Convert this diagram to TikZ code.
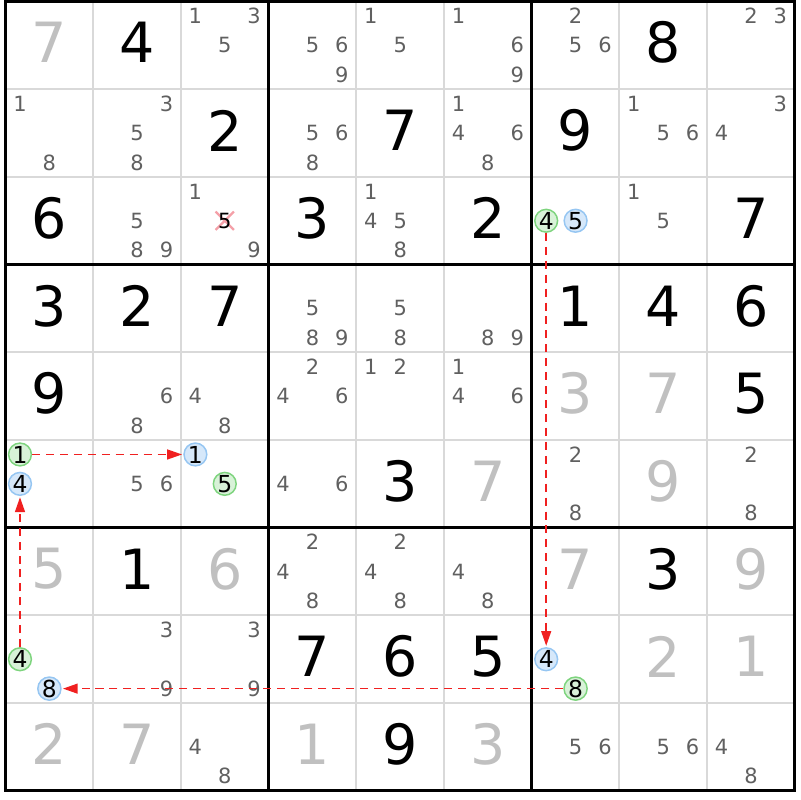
\documentclass[tikz,border=0pt]{standalone}
\usepackage{fontspec}
\setmainfont{DejaVu Sans}
\usetikzlibrary{arrows.meta, shapes.misc}
\definecolor{candgray}{HTML}{606060}
\definecolor{solvedgray}{HTML}{C0C0C0}
\definecolor{gridgray}{HTML}{D9D9D9}
\definecolor{ongreen}{HTML}{D8F2D8}
\definecolor{ongreenline}{HTML}{7ED47E}
\definecolor{offblue}{HTML}{D6E8FA}
\definecolor{offblueline}{HTML}{96C6F2}
\definecolor{linkred}{HTML}{F02020}
\definecolor{crosspink}{HTML}{F4A0A8}
\tikzset{
    x=2.5cm, y=-2.5cm,
    given/.style={text=black, font=\fontsize{45}{45}\selectfont, inner sep=0pt},
    solved/.style={given, text=solvedgray},
    cand/.style={text=candgray, font=\fontsize{17}{17}\selectfont, inner sep=0pt},
    oncand/.style={circle, draw=ongreenline, fill=ongreen, line width=1.2pt,
        minimum size=6.5mm, inner sep=0pt, text=black, font=\fontsize{19}{19}\selectfont},
    offcand/.style={oncand, draw=offblueline, fill=offblue},
    crossed/.style={cross out, draw=crosspink, line width=1.8pt, minimum size=4.6mm, inner sep=0pt},
    link/.style={draw=linkred, line width=1.3pt, dash pattern=on 6.5pt off 4.8pt,
        shorten >=1pt, -{Triangle[length=12pt, width=8pt]}},
}
% candidates of one cell: column, row, digits
\newcommand{\cands}[3]{%
    \foreach \d in {#3}{
        \pgfmathsetmacro{\cx}{#1-1+0.165+0.335*mod(\d-1,3)}
        \pgfmathsetmacro{\cy}{#2-1+0.165+0.335*int((\d-1)/3)}
        \node[cand] (k#1#2\d) at (\cx,\cy) {\d};
    }}

\begin{document}
\begin{tikzpicture}
\useasboundingbox (-0.063,-0.017) rectangle (9.059,9.105);

% grid
\foreach \i in {1,2,4,5,7,8} {
    \draw[gridgray, line width=1.6pt] (\i,0) -- (\i,9);
    \draw[gridgray, line width=1.6pt] (0,\i) -- (9,\i);
}
\foreach \i in {3,6} {
    \draw[line width=2.4pt] (\i,0) -- (\i,9);
    \draw[line width=2.4pt] (0,\i) -- (9,\i);
}
\draw[line width=2.4pt] (0,0) rectangle (9,9);

% clues and solved cells
\foreach \c/\r/\v in {2/1/4, 8/1/8, 3/2/2, 5/2/7, 7/2/9, 1/3/6, 4/3/3, 6/3/2,
    9/3/7, 1/4/3, 2/4/2, 3/4/7, 7/4/1, 8/4/4, 9/4/6, 1/5/9, 9/5/5, 5/6/3,
    2/7/1, 8/7/3, 4/8/7, 5/8/6, 6/8/5, 5/9/9}
    \node[given] (v\c\r) at (\c-0.5,\r-0.53) {\v};
\foreach \c/\r/\v in {1/1/7, 7/5/3, 8/5/7, 6/6/7, 8/6/9, 1/7/5, 3/7/6, 7/7/7,
    9/7/9, 8/8/2, 9/8/1, 1/9/2, 2/9/7, 4/9/1, 6/9/3}
    \node[solved] (v\c\r) at (\c-0.5,\r-0.53) {\v};

% pencil marks
\cands{3}{1}{1,3,5}
\cands{4}{1}{5,6,9}
\cands{5}{1}{1,5}
\cands{6}{1}{1,6,9}
\cands{7}{1}{2,5,6}
\cands{9}{1}{2,3}
\cands{1}{2}{1,8}
\cands{2}{2}{3,5,8}
\cands{4}{2}{5,6,8}
\cands{6}{2}{1,4,6,8}
\cands{8}{2}{1,5,6}
\cands{9}{2}{3,4}
\cands{2}{3}{5,8,9}
\cands{3}{3}{1,9}
\cands{5}{3}{1,4,5,8}
\cands{8}{3}{1,5}
\cands{4}{4}{5,8,9}
\cands{5}{4}{5,8}
\cands{6}{4}{8,9}
\cands{2}{5}{6,8}
\cands{3}{5}{4,8}
\cands{4}{5}{2,4,6}
\cands{5}{5}{1,2}
\cands{6}{5}{1,4,6}
\cands{2}{6}{5,6}
\cands{4}{6}{4,6}
\cands{7}{6}{2,8}
\cands{9}{6}{2,8}
\cands{4}{7}{2,4,8}
\cands{5}{7}{2,4,8}
\cands{6}{7}{4,8}
\cands{2}{8}{3,9}
\cands{3}{8}{3,9}
\cands{3}{9}{4,8}
\cands{7}{9}{5,6}
\cands{8}{9}{5,6}
\cands{9}{9}{4,8}

% eliminated candidate
\node[crossed] (x335) at (2.5,2.5) {};
\node[cand, text=black] (k335) at (2.5,2.5) {5};

% chain
\node[oncand] (on74) at (6.165,2.5) {4};
\node[offcand] (off75) at (6.5,2.5) {5};
\node[oncand] (on11) at (0.165,5.165) {1};
\node[offcand] (off14) at (0.165,5.5) {4};
\node[offcand] (off31) at (2.165,5.165) {1};
\node[oncand] (on35) at (2.5,5.5) {5};
\node[oncand] (on14) at (0.165,7.5) {4};
\node[offcand] (off18) at (0.5,7.835) {8};
\node[offcand] (off74) at (6.165,7.5) {4};
\node[oncand] (on78) at (6.5,7.835) {8};

\draw[link] (on11) -- (off31);
\draw[link] (on74) -- (off74);
\draw[link] (on78) -- (off18);
\draw[link] (on14) -- (off14);

\end{tikzpicture}
\end{document}
